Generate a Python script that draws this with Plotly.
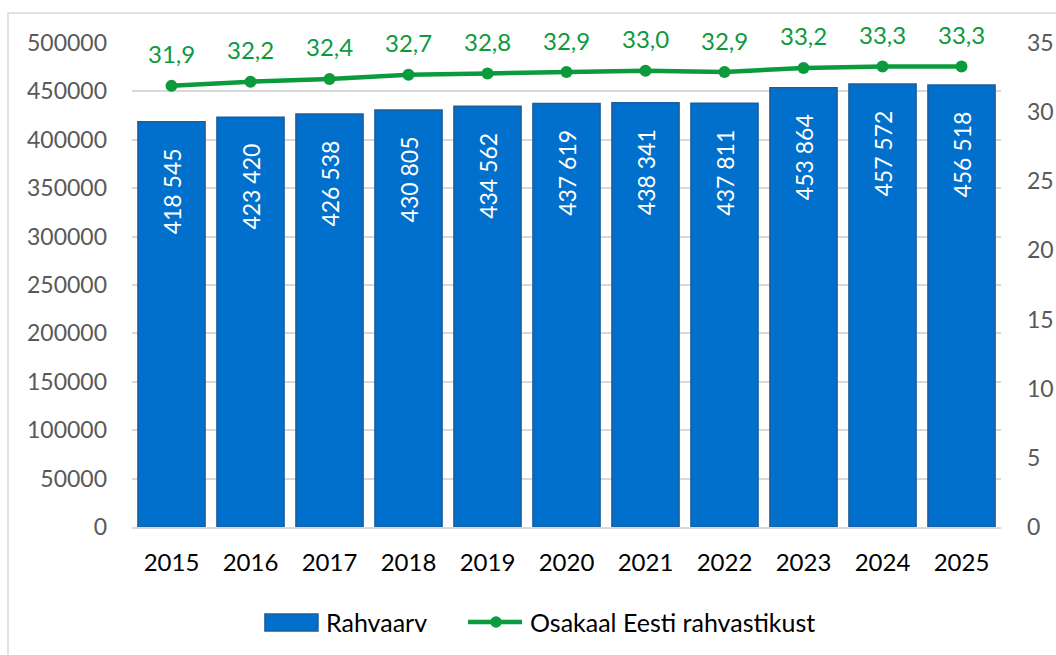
import plotly.graph_objects as go

aastad = ['2015', '2016', '2017', '2018', '2019', '2020', '2021', '2022', '2023', '2024', '2025']
rahvaarv = [418545, 423420, 426538, 430805, 434562, 437619, 438341, 437811, 453864, 457572, 456518]
osakaal = [31.9, 32.2, 32.4, 32.7, 32.8, 32.9, 33.0, 32.9, 33.2, 33.3, 33.3]

fnt = 'Lato, Calibri, sans-serif'
sinine = '#0070CC'
roheline = '#0B9A3C'

# tühikud lõpus, et silt jääks tulba ülaservast veidi allapoole
bar_text = [f'{v:,}'.replace(',', ' ') + '\u00a0' * 4 for v in rahvaarv]
line_text = [f'{v:.1f}'.replace('.', ',') for v in osakaal]

fig = go.Figure()

# Tulbad - rahvaarv
fig.add_trace(go.Bar(
     x=aastad,
     y=rahvaarv,
     name='Rahvaarv',
     marker=dict(color=sinine, line=dict(color='#1F5C99', width=1.5)),
     text=bar_text,
     textposition='inside',
     insidetextanchor='end',
     textangle=-90,
     textfont=dict(color='white', size=23, family=fnt),
     hoverinfo='skip'
))

# Joon - osakaal
fig.add_trace(go.Scatter(
     x=aastad,
     y=osakaal,
     name='Osakaal Eesti rahvastikust',
     yaxis='y2',
     mode='lines+markers',
     line=dict(color=roheline, width=4.5),
     marker=dict(color=roheline, size=12),
     cliponaxis=False
))

# Joone väärtused (kategooria teljel indeksi järgi, muidu '2015' loetakse indeksiks 2015)
annotations = [dict(
     x=i, y=v, xref='x', yref='y2', text=t, showarrow=False,
     yshift=32, font=dict(color=roheline, size=24, family=fnt)
) for i, (v, t) in enumerate(zip(osakaal, line_text))]

# Käsitsi legend (Exceli stiilis lai ristkülik)
annotations += [
     dict(x=0.2209, y=-0.1963, xref='paper', yref='paper', text='Rahvaarv',
          showarrow=False, xanchor='left', yanchor='middle',
          font=dict(color='black', size=25, family=fnt)),
     dict(x=0.4557, y=-0.1963, xref='paper', yref='paper', text='Osakaal Eesti rahvastikust',
          showarrow=False, xanchor='left', yanchor='middle',
          font=dict(color='black', size=25, family=fnt)),
]

shapes = [
     dict(type='rect', xref='paper', yref='paper',
          x0=-0.1427, x1=1.08, y0=-0.3, y1=1.062,
          line=dict(color='#d9d9d9', width=1.5), layer='below'),
     dict(type='rect', xref='paper', yref='paper',
          x0=0.1530, x1=0.2140, y0=-0.2149, y1=-0.1798,
          fillcolor=sinine, line=dict(color='#1F5C99', width=1.5)),
     dict(type='line', xref='paper', yref='paper',
          x0=0.3867, x1=0.4488, y0=-0.1963, y1=-0.1963,
          line=dict(color=roheline, width=4.5)),
     dict(type='circle', xref='paper', yref='paper',
          x0=0.4189 - 0.0066, x1=0.4189 + 0.0066, y0=-0.1963 - 0.0118, y1=-0.1963 + 0.0118,
          fillcolor=roheline, line=dict(color=roheline, width=0)),
]

fig.update_layout(
     width=1056,
     height=655,
     margin=dict(l=132, r=55, t=43, b=128),
     paper_bgcolor='white',
     plot_bgcolor='white',
     font=dict(family=fnt, size=23, color='#595959'),
     bargap=0.15,
     showlegend=False,
     xaxis=dict(
          type='category',
          range=[-0.5, len(aastad) - 0.5],  # annotatsioonid ei tohi telge laiendada
          tickfont=dict(color='black', size=24),
          showgrid=False,
          showline=True,
          linecolor='#d9d9d9',
          linewidth=1.5,
          ticks='',
          ticklabelstandoff=13,
          automargin=False
     ),
     yaxis=dict(
          range=[0, 500000],
          dtick=50000,
          tickformat='d',
          gridcolor='#d9d9d9',
          gridwidth=1.5,
          zeroline=False,
          ticks='',
          ticklabelstandoff=24,
          automargin=False
     ),
     yaxis2=dict(
          range=[0, 35],
          dtick=5,
          overlaying='y',
          side='right',
          showgrid=False,
          zeroline=False,
          ticks='',
          ticklabelstandoff=25,
          automargin=False
     ),
     annotations=annotations,
     shapes=shapes
)

# lehe vaikimisi ääris ära, et joonis algaks vasakust ülanurgast
fig.write_html("out.html", config={'displayModeBar': False},
               post_script="document.body.style.margin='0';")
